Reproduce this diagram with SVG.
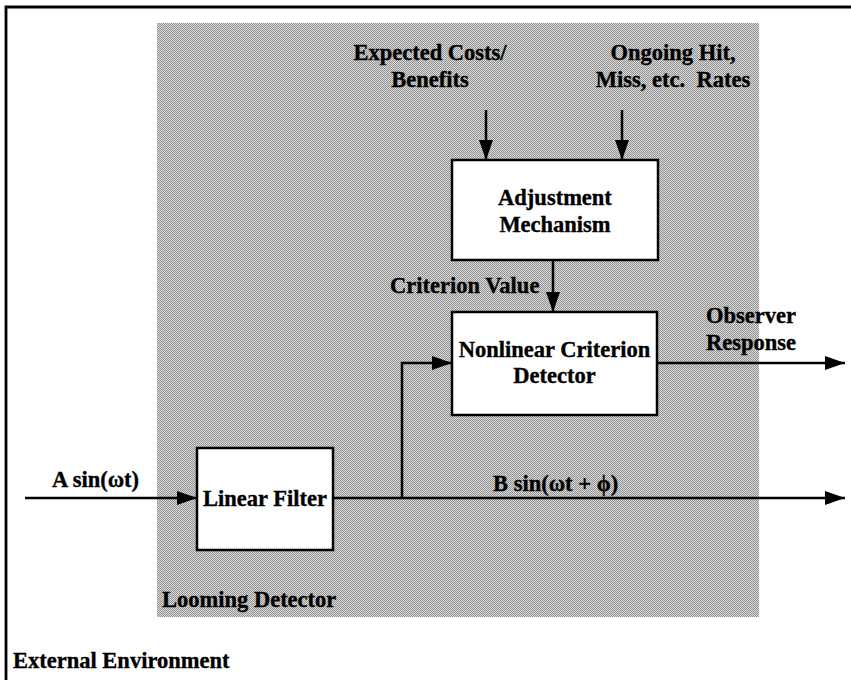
<svg xmlns="http://www.w3.org/2000/svg" width="851" height="680" viewBox="0 0 851 680">
  <style>
    text { font-family: "Liberation Serif", "Times New Roman", serif; font-weight: bold; font-size: 22.5px; fill: #000; stroke: #000; stroke-width: 0.35; }
    .mid { text-anchor: middle; }
    .box { fill: #fff; stroke: #000; stroke-width: 2.5; }
    .wire { fill: none; stroke: #000; stroke-width: 2.5; }
    .frame { fill: none; stroke: #000; stroke-width: 2.8; }
  </style>
  <defs>
    <pattern id="dither" x="0" y="0" width="2" height="2" patternUnits="userSpaceOnUse">
      <rect width="2" height="2" fill="#d8d8d8"/>
      <rect width="1" height="1" fill="#939393"/>
      <rect x="1" y="1" width="1" height="1" fill="#939393"/>
    </pattern>
    <marker id="head" viewBox="0 0 20 14" refX="20" refY="7" markerWidth="20" markerHeight="14" markerUnits="userSpaceOnUse" orient="auto">
      <path d="M0,0 L20,7 L0,14 Z" fill="#000"/>
    </marker>
  </defs>

  <rect width="851" height="680" fill="#fff"/>

  <!-- outer environment frame (open on right and bottom) -->
  <path class="frame" d="M6,680 V7 H851"/>

  <!-- looming detector region -->
  <g id="looming-detector">
    <rect x="157" y="23" width="602" height="594" fill="url(#dither)"/>
    <text x="162" y="607">Looming Detector</text>
  </g>

  <g id="external-environment">
    <text x="13" y="668">External Environment</text>
  </g>

  <!-- input labels at the top -->
  <g id="costs-label">
    <text class="mid" x="430" y="60">Expected Costs/</text>
    <text class="mid" x="430" y="87">Benefits</text>
  </g>
  <g id="rates-label">
    <text class="mid" x="673" y="60">Ongoing Hit,</text>
    <text class="mid" x="673" y="87" xml:space="preserve">Miss, etc.  Rates</text>
  </g>

  <g id="adjustment-mechanism">
    <rect class="box" x="452" y="160" width="206" height="100"/>
    <text class="mid" x="555" y="205">Adjustment</text>
    <text class="mid" x="555" y="232">Mechanism</text>
  </g>

  <g id="nonlinear-detector">
    <rect class="box" x="452" y="312" width="205" height="103"/>
    <text class="mid" x="554.5" y="357">Nonlinear Criterion</text>
    <text class="mid" x="554.5" y="383">Detector</text>
  </g>

  <g id="linear-filter">
    <rect class="box" x="197" y="448" width="136" height="102"/>
    <text class="mid" x="265" y="506">Linear Filter</text>
  </g>

  <!-- signal and control connectors -->
  <g id="connectors">
    <line class="wire" x1="486" y1="110" x2="486" y2="160" marker-end="url(#head)"/>
    <line class="wire" x1="622" y1="110" x2="622" y2="160" marker-end="url(#head)"/>
    <line class="wire" x1="553" y1="260" x2="553" y2="312" marker-end="url(#head)"/>
    <line class="wire" x1="25" y1="498" x2="197" y2="498" marker-end="url(#head)"/>
    <line class="wire" x1="333" y1="498" x2="845" y2="498" marker-end="url(#head)"/>
    <polyline class="wire" points="402,498 402,363 452,363" marker-end="url(#head)"/>
    <line class="wire" x1="657" y1="363" x2="845" y2="363" marker-end="url(#head)"/>
  </g>

  <!-- connector labels -->
  <g id="connector-labels">
    <text x="390" y="293">Criterion Value</text>
    <text x="52" y="487">A sin(ωt)</text>
    <text x="493" y="491">B sin(ωt + ϕ)</text>
    <text x="706" y="323">Observer</text>
    <text x="706" y="350">Response</text>
  </g>
</svg>
